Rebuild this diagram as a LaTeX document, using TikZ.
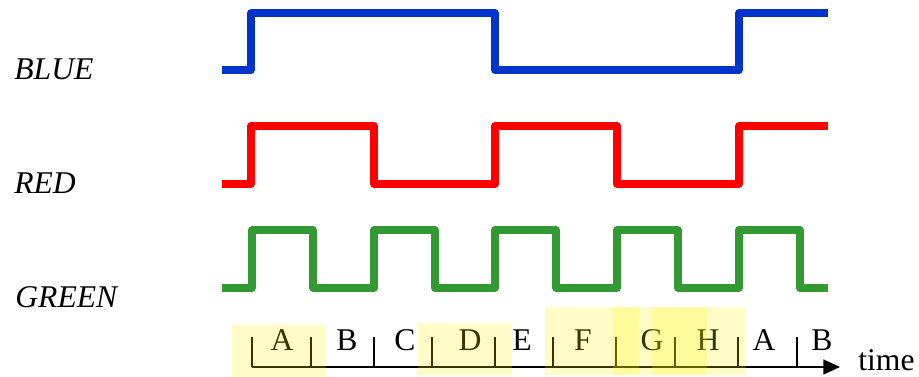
\documentclass[tikz,border=0pt]{standalone}
\usepackage{fontspec}
\setmainfont{Liberation Serif}
\usetikzlibrary{arrows.meta}
\definecolor{sigblue}{RGB}{0,51,204}
\definecolor{sigred}{RGB}{255,0,0}
\definecolor{siggreen}{RGB}{51,153,51}

\begin{document}
\begin{tikzpicture}[
    x=0.02cm,
    y=-0.02cm,
    signal/.style={
        line width=4.2pt,
        line join=round
    },
    signal label/.style={
        anchor=base west,
        inner sep=0pt,
        font=\fontsize{18}{20}\selectfont\itshape
    },
    slot label/.style={
        anchor=base,
        inner sep=0pt,
        font=\fontsize{18}{20}\selectfont
    },
    time axis/.style={
        draw,
        line width=1pt,
        -{Triangle[length=9.5pt,width=8.5pt]}
    },
    slot tick/.style={
        draw,
        line width=1pt
    },
    highlight/.style={
        fill=yellow,
        fill opacity=0.22
    },
    ]
    \useasboundingbox (0,0) rectangle (919,377);

    \node[signal label] (blue label) at (14,80) {BLUE};
    \node[signal label] (red label) at (14,194) {RED};
    \node[signal label] (green label) at (15,308) {GREEN};

    \draw[signal, sigblue] (222,70) -| (251,13) -| (495,70) -| (739,13) -- (828,13);
    \draw[signal, sigred] (222,184) -| (251,126) -| (374,184) -| (495,126)
        -| (617,184) -| (739,126) -- (828,126);
    \draw[signal, siggreen] (222,288) -| (252,230) -| (313,288) -| (374,230)
        -| (435,288) -| (495,230) -| (556,288) -| (617,230) -| (678,288)
        -| (739,230) -| (800,288) -- (828,288);

    \coordinate (axis start) at (252,367);
    \coordinate (axis end) at (840,367);
    \draw[time axis] (axis start) -- (axis end);
    \node[anchor=base west, inner sep=0pt, font=\fontsize{18}{20}\selectfont]
        (time label) at (858,371) {time};

    \foreach \x [count=\i] in {252,311,374,432,495,553,616,675,738,797}
    {
        \coordinate (tick top \i) at (\x,337);
        \coordinate (tick foot \i) at (\x,367);
        \draw[slot tick] (tick top \i) -- (tick foot \i);
    }

    \foreach \x/\s [count=\i] in {282/A,347/B,405/C,470/D,522/E,583/F,652/G,708/H,764/A,822/B}
        \node[slot label] (slot \i) at (\x,351) {\s};

    \fill[highlight] (232,325) rectangle (326,377);
    \fill[highlight] (418,323) rectangle (512,375);
    \fill[highlight] (545,307) rectangle (639,375);
    \fill[highlight] (613,307) rectangle (707,375);
    \fill[highlight] (652,307) rectangle (746,375);
\end{tikzpicture}
\end{document}
